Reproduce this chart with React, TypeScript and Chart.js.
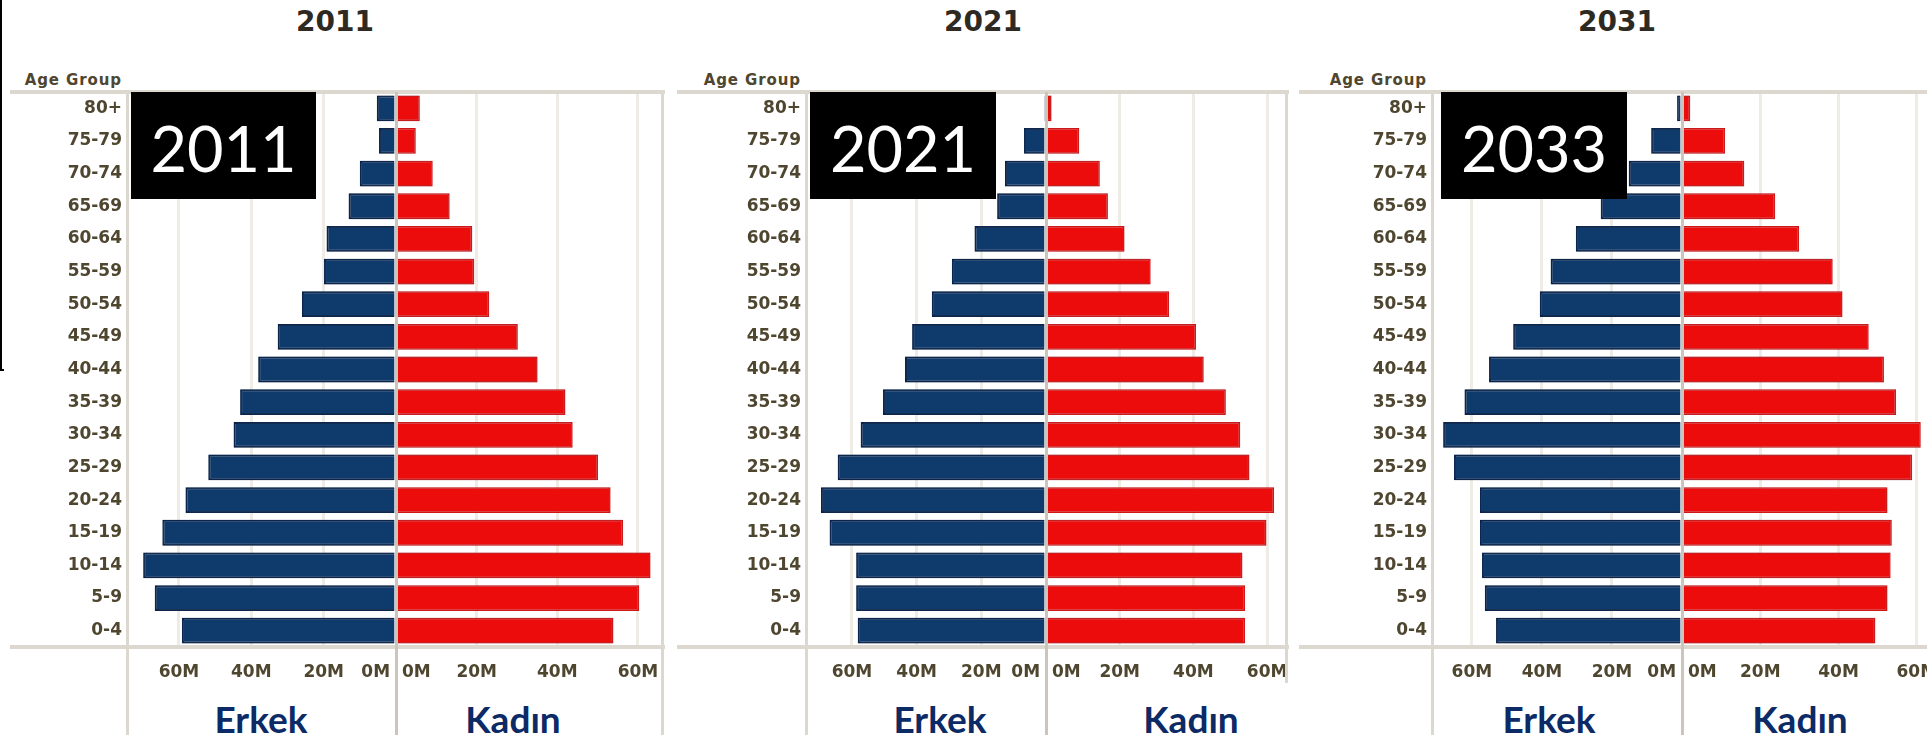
import React, { useEffect, useRef } from 'react';
import { Chart, registerables } from 'chart.js';

Chart.register(...registerables);

// ---------------- data ----------------
const ageGroups = ['80+', '75-79', '70-74', '65-69', '60-64', '55-59', '50-54', '45-49', '40-44', '35-39', '30-34', '25-29', '20-24', '15-19', '10-14', '5-9', '0-4'];
const xTickValues = [0, 20, 40, 60];

const male2011 = [5.3, 4.7, 10.0, 13.1, 19.2, 19.9, 26.0, 32.7, 38.1, 43.1, 44.9, 51.9, 58.2, 64.6, 69.9, 66.7, 59.2];
const female2011 = [5.9, 4.9, 9.1, 13.3, 18.9, 19.4, 23.1, 30.2, 35.1, 42.0, 43.8, 50.1, 53.2, 56.3, 63.1, 60.3, 53.9];

const male2021 = [0.6, 6.8, 12.7, 15.1, 22.1, 29.1, 35.3, 41.4, 43.6, 50.4, 57.3, 64.4, 69.6, 66.9, 58.7, 58.7, 58.2];
const female2021 = [1.5, 9.0, 14.6, 16.8, 21.3, 28.4, 33.4, 40.7, 42.8, 48.8, 52.7, 55.2, 61.9, 59.8, 53.3, 54.0, 54.0];

const male2031 = [1.4, 8.8, 15.2, 23.2, 30.3, 37.5, 40.6, 48.2, 55.1, 62.1, 68.2, 65.1, 57.7, 57.7, 57.1, 56.3, 53.1];
const female2031 = [2.1, 11.0, 15.9, 23.8, 29.9, 38.5, 41.0, 47.7, 51.6, 54.7, 61.0, 58.8, 52.5, 53.6, 53.3, 52.5, 49.4];

const panelTitles = ['2011', '2021', '2031'];
const badgeLabels = ['2011', '2021', '2033'];
const sideLabels = ['Erkek', 'Kadın'];
const headerLabel = 'Age Group';

// ---------------- styles ----------------
const BLUE = '#0f3a6c';
const BLUE_EDGE = '#07224a';
const RED = '#ec0c0c';
const RED_EDGE = '#d41212';
const GRID = '#efece6';
const LINE = '#dcd8cf';
const CENTER = '#cbc5ba';
const TEXT = '#4f4630';
const NAVY_TEXT = '#0b2a66';

const CANVAS_TOP = 92;
const PLOT_H = 555;
const XAXIS_H = 40;

type PanelCfg = {
  male: number[];
  female: number[];
  title: string;
  badge: string;
  left: number;
  axisX: number;
  centerX: number;
  right: number;
  leftMax: number;
  rightMax: number;
  titleX: number;
  erkekX: number;
  kadinX: number;
  boxL: number;
  boxR: number;
  borderX: number | null;
  borderBottom: number;
  lineRight: number;
};

const panels: PanelCfg[] = [
  {
    male: male2011, female: female2011, title: panelTitles[0], badge: badgeLabels[0],
    left: 10, axisX: 128, centerX: 396, right: 663, leftMax: 74.1, rightMax: 66.2,
    titleX: 335, erkekX: 261, kadinX: 513, boxL: 131, boxR: 316, borderX: 663, borderBottom: 735, lineRight: 665,
  },
  {
    male: male2021, female: female2021, title: panelTitles[1], badge: badgeLabels[1],
    left: 677, axisX: 807, centerX: 1046, right: 1287, leftMax: 73.9, rightMax: 65.4,
    titleX: 983, erkekX: 940, kadinX: 1191, boxL: 810, boxR: 996, borderX: 1287, borderBottom: 683, lineRight: 1289,
  },
  {
    male: male2031, female: female2031, title: panelTitles[2], badge: badgeLabels[2],
    left: 1299, axisX: 1433, centerX: 1682, right: 1945, leftMax: 71.1, rightMax: 67.2,
    titleX: 1617, erkekX: 1549, kadinX: 1800, boxL: 1441, boxR: 1627, borderX: null, borderBottom: 735, lineRight: 1927,
  },
];

const tickFont = { family: "'DejaVu Sans', sans-serif", size: 17, weight: 'bold' as const };

const haloPlugin = {
  id: 'halo',
  beforeDatasetsDraw(chart: any) {
    const ctx = chart.ctx;
    ctx.save();
    ctx.shadowColor = 'rgba(110,115,130,0.55)';
    ctx.shadowBlur = 3;
  },
  afterDatasetsDraw(chart: any) {
    chart.ctx.restore();
  },
};

function xScale(max: number, reverse: boolean, weight: number) {
  return {
    type: 'linear' as const,
    position: 'bottom' as const,
    stack: 'x',
    stackWeight: weight,
    min: 0,
    max,
    reverse,
    grid: {
      drawTicks: false,
      lineWidth: 3,
      color: (c: any) => {
        const v = c.tick ? c.tick.value : -1;
        if (v === 0) return CENTER;
        if (xTickValues.includes(v)) return GRID;
        return 'rgba(0,0,0,0)';
      },
    },
    border: { display: false },
    ticks: {
      align: 'inner' as const,
      autoSkip: false,
      maxRotation: 0,
      minRotation: 0,
      padding: 15,
      font: tickFont,
      color: TEXT,
      // a space on the centre side keeps the two "0M" labels apart from the zero line
      callback: (v: any) => {
        if (!xTickValues.includes(v)) return '';
        if (v === 0) return reverse ? '0M ' : ' 0M';
        return `${v}M`;
      },
    },
    afterBuildTicks: (s: any) => {
      s.ticks = [...xTickValues, max].map((v) => ({ value: v }));
    },
    afterFit: (s: any) => {
      s.height = XAXIS_H;
      s.paddingLeft = 0;
      s.paddingRight = 0;
    },
  };
}

function Pyramid({ cfg }: { cfg: PanelCfg }) {
  const ref = useRef<HTMLCanvasElement>(null);
  const W = cfg.right - cfg.left;
  const H = PLOT_H + XAXIS_H;
  useEffect(() => {
    const yW = cfg.axisX - cfg.left;
    const wL = cfg.centerX - cfg.axisX;
    const wR = cfg.right - cfg.centerX;
    const chart = new Chart(ref.current as HTMLCanvasElement, {
      type: 'bar',
      data: {
        labels: ageGroups,
        datasets: [
          {
            label: sideLabels[0], data: cfg.male, xAxisID: 'xL', yAxisID: 'y',
            backgroundColor: BLUE, borderColor: BLUE_EDGE, borderWidth: 2,
            barPercentage: 0.79, categoryPercentage: 1, grouped: false,
          } as any,
          {
            label: sideLabels[1], data: cfg.female, xAxisID: 'xR', yAxisID: 'y',
            backgroundColor: RED, borderColor: RED_EDGE, borderWidth: 1.5,
            barPercentage: 0.79, categoryPercentage: 1, grouped: false,
          } as any,
        ],
      },
      options: {
        indexAxis: 'y',
        responsive: false,
        maintainAspectRatio: false,
        animation: false,
        layout: { padding: 0 },
        plugins: { legend: { display: false }, tooltip: { enabled: false }, title: { display: false } },
        scales: {
          y: {
            type: 'category',
            position: 'left',
            grid: { display: false, drawTicks: false },
            border: { display: false },
            ticks: { font: tickFont, color: TEXT, padding: 6, autoSkip: false },
            afterFit: (s: any) => {
              s.width = yW;
              s.paddingTop = 0;
              s.paddingBottom = 0;
            },
          },
          xL: xScale(cfg.leftMax, true, wL),
          xR: xScale(cfg.rightMax, false, wR),
        } as any,
      },
      plugins: [haloPlugin],
    });
    return () => chart.destroy();
  }, []);
  return (
    <canvas
      ref={ref}
      width={W}
      height={H}
      style={{ position: 'absolute', left: cfg.left, top: CANVAS_TOP, width: W, height: H, zIndex: 1 }}
    />
  );
}

function Box(props: { l: number; t: number; w: number; h: number; c: string; z?: number }) {
  return (
    <div style={{ position: 'absolute', left: props.l, top: props.t, width: props.w, height: props.h, background: props.c, zIndex: props.z ?? 2 }} />
  );
}

function Panel({ cfg }: { cfg: PanelCfg }) {
  const lineW = cfg.lineRight - cfg.left;
  const sideStyle = (x: number): React.CSSProperties => ({
    position: 'absolute', left: x - 100, width: 200, top: 718, transform: 'translateY(-50%)', textAlign: 'center',
    font: "bold 37px Lato, 'Open Sans', sans-serif", color: NAVY_TEXT, lineHeight: 1, zIndex: 2,
  });
  return (
    <>
      <Pyramid cfg={cfg} />
      {/* title */}
      <div style={{
        position: 'absolute', left: cfg.titleX - 100, width: 200, top: 22, transform: 'translateY(-50%)',
        textAlign: 'center', font: "bold 28px 'DejaVu Sans', sans-serif", color: '#2e2a22', lineHeight: 1, zIndex: 2,
      }}>{cfg.title}</div>
      {/* Age Group header */}
      <div style={{
        position: 'absolute', left: cfg.axisX - 6 - 200, width: 200, top: 80, transform: 'translateY(-50%)',
        textAlign: 'right', font: "bold 15px 'DejaVu Sans', sans-serif", color: TEXT, lineHeight: 1, letterSpacing: '0.9px', zIndex: 2,
      }}>{headerLabel}</div>
      {/* frame lines */}
      <Box l={cfg.left} t={90} w={lineW} h={4} c={LINE} />
      <Box l={cfg.left} t={645} w={lineW} h={4} c={LINE} />
      <Box l={cfg.axisX - 2} t={90} w={3} h={735 - 90} c={LINE} />
      <Box l={cfg.centerX - 1} t={92} w={3} h={735 - 92} c={CENTER} />
      {cfg.borderX !== null && <Box l={cfg.borderX - 2} t={90} w={3} h={cfg.borderBottom - 90} c={LINE} />}
      {/* black badge */}
      <div style={{
        position: 'absolute', left: cfg.boxL, top: 92, width: cfg.boxR - cfg.boxL, height: 107, background: '#000',
        color: '#fff', display: 'flex', alignItems: 'center', justifyContent: 'center', boxSizing: 'border-box', paddingTop: 4,
        font: "400 63px Lato, 'Open Sans', sans-serif", lineHeight: 1, zIndex: 3,
      }}>{cfg.badge}</div>
      {/* side labels */}
      <div style={sideStyle(cfg.erkekX)}>{sideLabels[0]}</div>
      <div style={sideStyle(cfg.kadinX)}>{sideLabels[1]}</div>
    </>
  );
}

export default function App() {
  return (
    <div style={{ position: 'fixed', left: 0, top: 0, width: 1927, height: 735, overflow: 'hidden', background: '#fff' }}>
      {panels.map((p, i) => <Panel key={i} cfg={p} />)}
      {/* thin black frame edge at far left */}
      <Box l={0} t={0} w={2} h={371} c="#000" z={4} />
      <Box l={0} t={369} w={4} h={2} c="#000" z={4} />
    </div>
  );
}
